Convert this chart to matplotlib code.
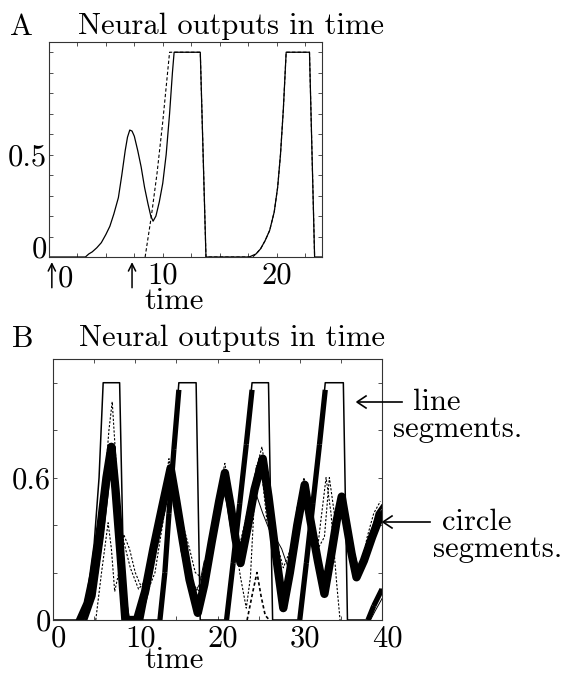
import numpy as np
import matplotlib.pyplot as plt
from matplotlib.transforms import ScaledTranslation

plt.rcParams['font.family'] = 'cmr10'
plt.rcParams['axes.formatter.use_mathtext'] = True
FS = 22
plt.rcParams['font.size'] = FS

# ---- panel A: one line-segment neuron (solid) and a reference trace (dashed)
a_solid_t = [0, 3.2, 3.5, 3.8, 4.2, 4.6, 5.0, 5.35, 5.7, 6.1, 6.4, 6.7, 6.9, 7.1, 7.3,
             7.5, 7.8, 8.1, 8.4, 8.7, 8.95, 9.15, 9.4, 9.7, 10.0, 10.3, 10.6, 10.85,
             11.0, 13.3, 13.8, 17.6, 18.2, 18.6, 19.0, 19.4, 19.8, 20.1, 20.35, 20.6,
             20.85, 22.9, 23.35, 24]
a_solid_y = [0, 0, 0.015, 0.025, 0.045, 0.07, 0.11, 0.15, 0.21, 0.29, 0.4, 0.52, 0.585,
             0.62, 0.615, 0.59, 0.52, 0.44, 0.34, 0.26, 0.2, 0.175, 0.2, 0.27, 0.36,
             0.5, 0.7, 0.9, 1.0, 1.0, 0, 0, 0.015, 0.04, 0.08, 0.13, 0.22, 0.34, 0.5,
             0.72, 1.0, 1.0, 0, 0]
a_dash_t = [8.45, 9.0, 9.5, 10.0, 10.6, 13.3, 13.8, 17.9, 18.2, 18.6, 19.0, 19.4, 19.8,
            20.1, 20.35, 20.6, 20.85, 22.9, 23.35]
a_dash_y = [0, 0.2, 0.41, 0.66, 1.0, 1.0, 0, 0, 0.015, 0.04, 0.08, 0.13, 0.22,
            0.34, 0.5, 0.72, 1.0, 1.0, 0]

# ---- panel B: line segments (pulses) and circle segments (oscillating bundles)
seg_t = [0, 3.3, 4.2, 5.0, 5.6, 6.1, 8.1, 8.7, 13.0, 13.6, 14.1, 14.7, 15.3, 17.4,
         17.9, 21.1, 21.9, 22.7, 23.5, 24.2, 26.2, 26.7, 30.0, 30.8, 31.6, 32.4, 33.1,
         35.3, 35.8, 38.3, 39.0, 40]
seg_y = [0, 0, 0.12, 0.32, 0.6, 1.0, 1.0, 0, 0, 0.2, 0.45, 0.72, 1.0, 1.0,
         0, 0, 0.24, 0.49, 0.74, 1.0, 1.0, 0, 0, 0.24, 0.49, 0.74, 1.0,
         1.0, 0, 0, 0.06, 0.13]

circ_t = [3.3, 4.2, 5.0, 5.8, 6.5, 7.1, 7.6, 8.2, 8.8, 10.2, 11.2, 12.2, 13.3, 14.3,
          15.0, 15.8, 16.6, 17.6, 18.4, 19.3, 20.2, 20.9, 21.6, 22.2, 22.8, 23.6, 24.5,
          25.5, 26.2, 27.0, 28.0, 28.8, 29.7, 30.6, 31.3, 32.2, 33.0, 33.8, 34.5, 35.1,
          35.7, 36.3, 36.9, 37.8, 38.8, 39.8]
circ_y = [0, 0.07, 0.2, 0.4, 0.6, 0.73, 0.55, 0.28, 0, 0, 0.12, 0.3, 0.48, 0.64,
          0.5, 0.33, 0.17, 0.03, 0.15, 0.33, 0.5, 0.62, 0.48, 0.34, 0.24, 0.38, 0.55,
          0.68, 0.52, 0.3, 0.05, 0.2, 0.4, 0.57, 0.42, 0.25, 0.11, 0.27, 0.42, 0.52,
          0.4, 0.28, 0.18, 0.25, 0.35, 0.44]

circ2_t = [4.0, 5.0, 6.0, 6.8, 7.3, 7.9, 8.5, 9.2, 10.8, 11.8, 12.8, 13.8, 14.5, 15.3,
           16.2, 17.1, 17.8, 18.8, 19.8, 20.6, 21.2, 21.9, 22.6, 23.3, 24.2, 25.0, 25.7,
           26.5, 27.3, 28.2, 29.1, 30.0, 30.8, 31.6, 32.4, 33.2, 34.0, 34.8, 35.4, 36.1,
           36.8, 37.6, 38.5, 39.4, 40]
circ2_y = [0, 0.1, 0.35, 0.6, 0.68, 0.45, 0.15, 0, 0, 0.18, 0.38, 0.56, 0.6, 0.45,
           0.28, 0.12, 0.08, 0.25, 0.45, 0.57, 0.5, 0.35, 0.25, 0.3, 0.48, 0.62, 0.6,
           0.4, 0.2, 0.1, 0.3, 0.5, 0.55, 0.38, 0.2, 0.2, 0.35, 0.48, 0.5, 0.35,
           0.22, 0.22, 0.33, 0.45, 0.48]

circ3_t = [3.6, 4.6, 5.5, 6.3, 6.9, 7.4, 8.0, 8.6, 9.0, 10.5, 11.5, 12.5, 13.6, 14.4,
           15.1, 16.0, 16.9, 17.7, 18.6, 19.5, 20.4, 21.0, 21.8, 22.5, 23.0, 23.9, 24.8,
           25.6, 26.4, 27.2, 28.1, 29.0, 29.9, 30.7, 31.5, 32.3, 33.1, 33.9, 34.6, 35.2,
           35.9, 36.5, 37.1, 38.0, 39.0, 40]
circ3_y = [0, 0.08, 0.25, 0.48, 0.66, 0.7, 0.45, 0.18, 0, 0, 0.16, 0.35, 0.54, 0.63,
           0.48, 0.3, 0.14, 0.05, 0.2, 0.38, 0.55, 0.6, 0.44, 0.3, 0.26, 0.42, 0.6,
           0.66, 0.46, 0.24, 0.06, 0.24, 0.45, 0.56, 0.38, 0.2, 0.14, 0.32, 0.46, 0.5,
           0.36, 0.24, 0.2, 0.3, 0.4, 0.46]

dash1_t = [4.0, 5.0, 6.0, 6.8, 7.2, 7.6, 8.1, 8.6, 9.4, 10.4, 11.3, 12.3, 13.3, 14.1,
           14.6, 15.4, 16.2, 17.0, 17.8, 18.6, 19.6, 20.9, 21.6, 22.6, 23.6, 24.6, 25.4,
           26.0, 26.8, 27.6, 28.4, 29.4, 30.5, 31.3, 32.2, 33.0, 33.6, 34.2, 35.0, 35.7,
           36.5, 37.3, 38.2, 39.0, 39.8]
dash1_y = [0, 0.15, 0.45, 0.8, 0.92, 0.7, 0.45, 0.33, 0.22, 0.13, 0.17, 0.3, 0.5, 0.68,
           0.55, 0.4, 0.25, 0.15, 0.12, 0.22, 0.45, 0.66, 0.5, 0.3, 0.45, 0.62, 0.73,
           0.6, 0.35, 0.15, 0.15, 0.38, 0.6, 0.5, 0.3, 0.35, 0.6, 0.45, 0.5, 0.38,
           0.3, 0.2, 0.35, 0.45, 0.5]

dash2_t = [5.2, 5.9, 6.7, 7.1, 7.5, 8.0, 8.6, 9.3, 10.0, 10.6, 11.5, 12.4, 13.4, 14.3,
           15.0, 15.8, 16.6, 17.3, 18.0, 19.0, 20.0, 20.9, 21.8, 22.8, 23.5, 24.0, 24.7,
           25.3, 26.0, 27.0, 28.0, 28.9, 29.8, 30.6, 31.4, 32.0, 32.5, 33.2, 33.8, 34.5,
           34.9]
dash2_y = [0, 0.2, 0.41, 0.3, 0.12, 0.2, 0.36, 0.3, 0.2, 0.15, 0.12, 0.2, 0.42, 0.6,
           0.48, 0.4, 0.3, 0.2, 0.18, 0.25, 0.48, 0.58, 0.4, 0.18, 0.05, 0.18, 0.65,
           0.65, 0.42, 0.35, 0.22, 0.3, 0.5, 0.55, 0.4, 0.25, 0.4, 0.6, 0.45, 0.15,
           0.0]

dash3_t = [23.6, 24.3, 24.8, 25.3, 25.8, 26.3]
dash3_y = [0.0, 0.12, 0.2, 0.1, 0.02, 0.0]

thin1_t = [24.5, 25.5, 26.3, 27.0, 27.8, 28.6, 29.3]
thin1_y = [0.55, 0.45, 0.38, 0.35, 0.3, 0.22, 0.25]
thin2_t = [15.5, 16.2, 17.0, 17.8, 18.4, 19.0]
thin2_y = [0.3, 0.2, 0.1, 0.15, 0.25, 0.2]
thin3_t = [38.6, 39.2, 40]
thin3_y = [0.0, 0.04, 0.09]

W, H = 564, 673
fig = plt.figure(figsize=(W / 100, H / 100), dpi=100)


def fx(px):
    return px / W


def fy(py):
    return 1 - py / H


axA = fig.add_axes([fx(49), fy(257), (322 - 49) / W, (257 - 42) / H])
axB = fig.add_axes([fx(53), fy(620), (382 - 53) / W, (620 - 359) / H])

for ax in (axA, axB):
    for s in ax.spines.values():
        s.set_linewidth(0.8)
        s.set_color('#333333')
    ax.tick_params(direction='in', top=True, right=True, length=3, width=0.6,
                   color='#333333', labelsize=FS)
    ax.tick_params(axis='x', pad=4)
    ax.tick_params(axis='y', pad=1.5)

# panel A
axA.plot(a_solid_t, a_solid_y, color='black', lw=0.9)
axA.plot(a_dash_t, a_dash_y, color='black', lw=0.8, dashes=(3, 2))
axA.set_xlim(0, 24)
axA.set_ylim(0, 1.05)
xa = np.arange(0, 24, 2.5)
axA.set_xticks(xa)
axA.set_xticklabels([str(int(v)) if v in (10, 20) else '' for v in xa])
yt = np.round(np.arange(0, 1.01, 0.1), 1)
axA.set_yticks(yt)
axA.set_yticklabels(['0' if v == 0 else ('0.5' if v == 0.5 else '') for v in yt])
axA.get_yticklabels()[0].set_va('baseline')

fig.text(fx(10), fy(35), 'A', ha='left', va='baseline')
fig.text(fx(78), fy(34), 'Neural outputs in time', ha='left', va='baseline')
fig.text(fx(58), fy(286), '0', ha='left', va='baseline')
fig.text(fx(174), fy(309), 'time', ha='center', va='baseline')
for ax_x in (0.25, 7.3):
    axA.annotate('', xy=(ax_x, -0.025), xytext=(ax_x, -0.15), xycoords='data',
                 textcoords='data', annotation_clip=False,
                 arrowprops=dict(arrowstyle='->', lw=1.1, color='black',
                                 mutation_scale=13, shrinkA=0, shrinkB=0))

# panel B: rising edges of the later pulses are thick bundles
for i in range(len(seg_t) - 1):
    if seg_t[i] > 10 and seg_y[i + 1] > seg_y[i] and seg_y[i] < 0.95:
        axB.plot(seg_t[i:i + 2], [seg_y[i], min(seg_y[i + 1], 0.97)], color='black',
                 lw=3.8, solid_capstyle='butt')
axB.plot(seg_t, seg_y, color='black', lw=1.1)
axB.plot(circ_t, circ_y, color='black', lw=6.0)
axB.plot(circ2_t, circ2_y, color='black', lw=2.2)
axB.plot(circ3_t, circ3_y, color='black', lw=1.5)
axB.plot(dash1_t, dash1_y, color='black', lw=0.8, dashes=(2, 1.5))
axB.plot(dash2_t, dash2_y, color='black', lw=0.8, dashes=(2, 1.5))
axB.plot(dash3_t, dash3_y, color='black', lw=1.2, dashes=(2, 1.5))
axB.plot(thin1_t, thin1_y, color='black', lw=0.7)
axB.plot(thin2_t, thin2_y, color='black', lw=0.7)
axB.plot(thin3_t, thin3_y, color='black', lw=0.7)
axB.set_xlim(0, 40)
axB.set_ylim(0, 1.1)
xb = np.arange(0, 41, 5)
axB.set_xticks(xb)
axB.set_xticklabels([str(int(v)) if v % 10 == 0 else '' for v in xb])
ybt = np.round(np.arange(0, 1.01, 0.2), 1)
axB.set_yticks(ybt)
axB.set_yticklabels(['0' if v == 0 else ('0.6' if v == 0.6 else '') for v in ybt])
shift = ScaledTranslation(5 / 100, 0, fig.dpi_scale_trans)
for lab in axB.get_xticklabels():
    lab.set_transform(lab.get_transform() + shift)

fig.text(fx(12), fy(347), 'B', ha='left', va='baseline')
fig.text(fx(79), fy(346), 'Neural outputs in time', ha='left', va='baseline')
fig.text(fx(174), fy(668), 'time', ha='center', va='baseline')

fig.add_artist(plt.Line2D([fx(358), fx(402)], [fy(402), fy(402)], color='black', lw=1.2))
fig.add_artist(plt.Line2D([fx(384), fx(430)], [fy(522), fy(522)], color='black', lw=1.2))
fig.add_artist(plt.Line2D([fx(366), fx(357), fx(366)], [fy(396), fy(402), fy(408)],
                          color='black', lw=1.2))
fig.add_artist(plt.Line2D([fx(392), fx(383), fx(392)], [fy(516), fy(522), fy(528)],
                          color='black', lw=1.2))
fig.text(fx(413), fy(410), 'line', ha='left', va='baseline')
fig.text(fx(393), fy(437), 'segments.', ha='left', va='baseline')
fig.text(fx(442), fy(530), 'circle', ha='left', va='baseline')
fig.text(fx(433), fy(557), 'segments.', ha='left', va='baseline')

fig.savefig('out.png', dpi=100)
